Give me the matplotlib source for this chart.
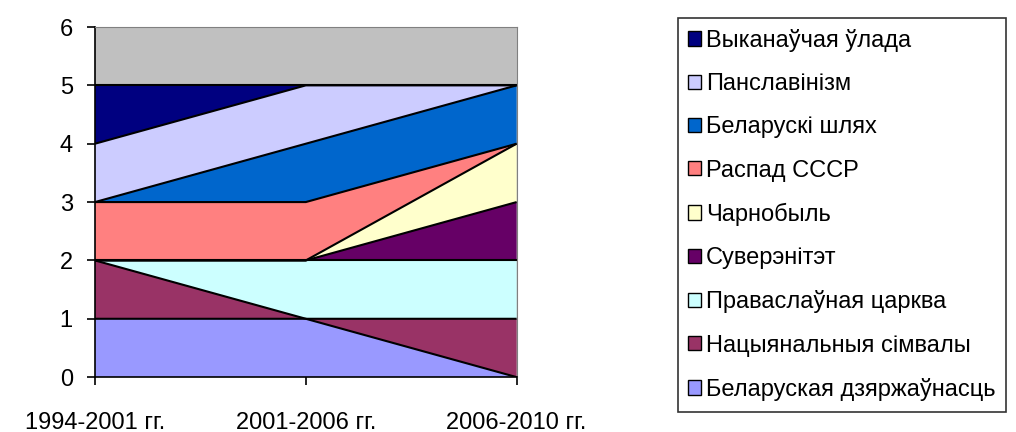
import matplotlib.pyplot as plt
import numpy as np
from matplotlib.patches import Patch

plt.rcParams['font.family'] = ['Liberation Sans', 'DejaVu Sans']

periods = ['1994-2001 гг.', '2001-2006 гг.', '2006-2010 гг.']
# series from bottom of the stack to top
names = ['Беларуская дзяржаўнасць', 'Нацыянальныя сімвалы', 'Праваслаўная царква',
         'Суверэнітэт', 'Чарнобыль', 'Распад СССР', 'Беларускі шлях',
         'Панславінізм', 'Выканаўчая ўлада']
values = [
    [1, 1, 0],
    [1, 0, 1],
    [0, 1, 1],
    [0, 0, 1],
    [0, 0, 1],
    [1, 1, 0],
    [0, 1, 1],
    [1, 1, 0],
    [1, 0, 0],
]
colors = ['#9999FF', '#993366', '#CCFFFF', '#660066', '#FFFFCC',
          '#FF8080', '#0066CC', '#CCCCFF', '#000080']

fig = plt.figure(figsize=(10.16, 4.32), dpi=100)
ax = fig.add_axes([0.0935, 0.127, 0.415, 0.8105])
ax.set_facecolor('#C0C0C0')

x = np.arange(len(periods))
base = np.zeros(len(periods))
for v, c in zip(values, colors):
    top = base + np.array(v)
    ax.fill_between(x, base, top, facecolor=c, linewidth=0)
    base = top
base = np.zeros(len(periods))
for v in values:
    base = base + np.array(v)
    ax.plot(x, base, color='black', lw=1.5, solid_capstyle='butt')

ax.set_xlim(0, 2)
ax.set_ylim(0, 6)
ax.set_yticks(range(7))
ax.set_xticks(x)
ax.set_xticklabels(periods)
ax.tick_params(axis='both', labelsize=17, length=6, width=1.2, direction='out')
ax.tick_params(axis='x', pad=19)
ax.tick_params(axis='y', pad=10)
for s in ['top', 'right']:
    ax.spines[s].set_color('#808080')
for s in ['left', 'bottom']:
    ax.spines[s].set_linewidth(1.2)

handles = [Patch(facecolor=c, edgecolor='black', label=n)
           for n, c in zip(names, colors)][::-1]
leg = fig.legend(handles=handles, loc='upper left', bbox_to_anchor=(0.667, 0.958),
                 fontsize=17, frameon=True, fancybox=False, edgecolor='black',
                 handlelength=0.55, handleheight=0.55, handletextpad=0.2,
                 labelspacing=0.9, borderpad=0.45, borderaxespad=0)
leg.get_frame().set_linewidth(1.2)

fig.savefig('out.png', dpi=100)
